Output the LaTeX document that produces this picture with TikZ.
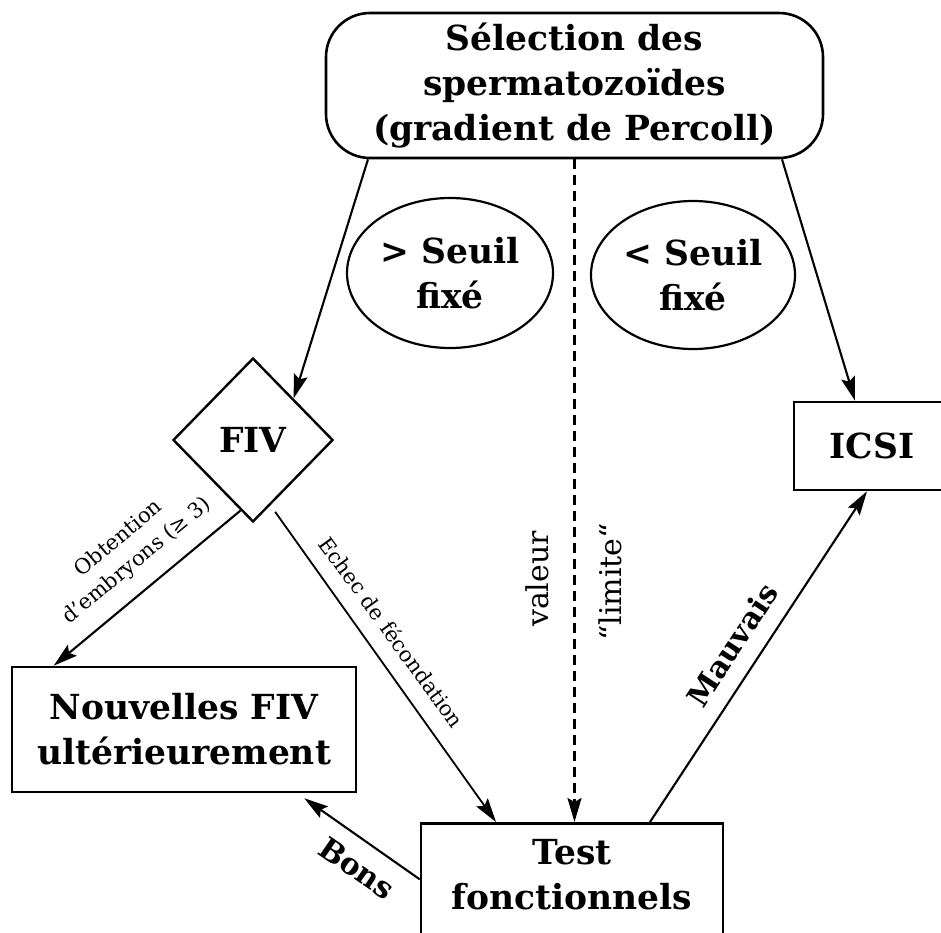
\documentclass[tikz,border=0pt]{standalone}
\usepackage{fontspec}
\setmainfont{DejaVu Serif}
\usetikzlibrary{shapes.geometric,arrows.meta}
\begin{document}
\begin{tikzpicture}[x=1pt,y=-1pt,
  big/.style={font=\fontsize{34.5}{45}\selectfont\bfseries, align=center},
  box/.style={draw, line width=2.6pt, inner sep=0pt},
  arr/.style={line width=2.1pt, -{Stealth[length=24pt,width=14pt,inset=4pt]}},
  lab/.style={font=\fontsize{21}{29}\selectfont, align=center},
  vlab/.style={font=\fontsize{30}{34}\selectfont, rotate=90},
  blab/.style={font=\fontsize{30}{34}\selectfont\bfseries}]
\useasboundingbox (0,0) rectangle (941,932);
% nodes
\node[box, big, rounded corners=44pt, minimum width=497pt, minimum height=145pt] (sel) at (574.5,85.5) {Sélection des\\spermatozoïdes\\(gradient de Percoll)};
\node[draw, ellipse, line width=2.2pt, minimum width=206pt, minimum height=150pt, inner sep=0pt, big] (gt) at (450,273) {> Seuil\\fixé};
\node[draw, ellipse, line width=2.2pt, minimum width=204pt, minimum height=148pt, inner sep=0pt, big] (lt) at (693,275) {< Seuil\\fixé};
\node[draw, diamond, line width=2.4pt, minimum width=160pt, minimum height=164pt, inner sep=0pt, big] (fiv) at (253,440) {FIV};
\node[box, big, minimum width=156pt, minimum height=88pt] (icsi) at (872,446) {ICSI};
\node[box, big, minimum width=344pt, minimum height=125pt] (nouv) at (184,729.5) {Nouvelles FIV\\ultérieurement};
\node[box, minimum width=302pt, minimum height=130pt, anchor=north] (test) at (572,822) {};
\node[big] (testtxt) at (572,875) {Test\\fonctionnels};
% connectors
\draw[arr] ([xshift=-206.5pt]sel.south) -- (fiv.north east);
\draw[arr] ([xshift=207.5pt]sel.south) -- ([xshift=-17pt]icsi.north);
\draw[arr, dash pattern=on 10pt off 6pt] (sel.south) -- (sel.south |- test.north);
\draw[arr] (fiv.260) -- ([xshift=43pt]nouv.north west);
\draw[arr, line width=1.8pt, shorten <=8pt] (fiv.285) -- ([xshift=-76pt]test.north);
\draw[arr] ([xshift=78pt]test.north) -- ([xshift=-5pt]icsi.south);
\draw[arr] ([yshift=9pt]test.west) -- ([xshift=-53pt,yshift=-5pt]nouv.south east);
% labels
\node[lab, rotate=39.6] (obt) at (128,550) {Obtention\\d’embryons (≥ 3)};
\node[lab, rotate=-54] (echec) at (392,632) {Echec de fécondation};
\node[vlab] (val) at (537,579) {valeur};
\node[vlab] (lim) at (610,582) {“limite“};
\node[blab, rotate=56.8] (mauv) at (732,645) {Mauvais};
\node[blab, rotate=-34.5] (bons) at (357,868) {Bons};
\end{tikzpicture}
\end{document}
